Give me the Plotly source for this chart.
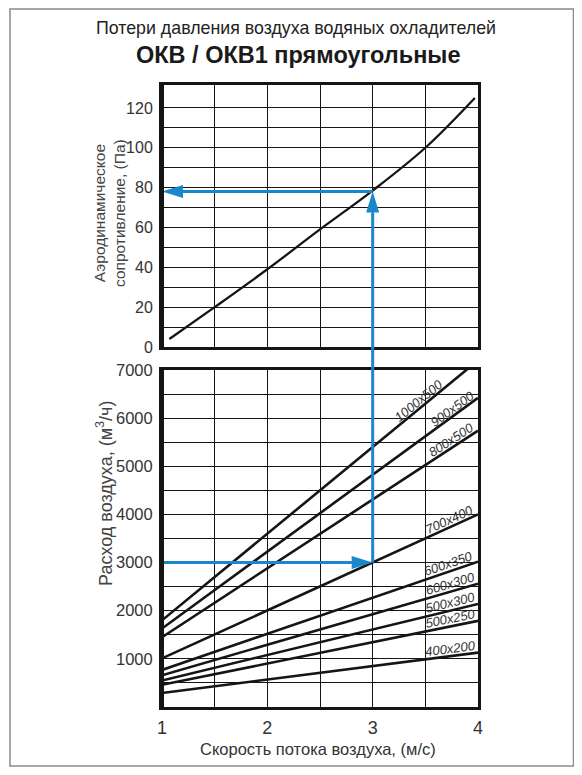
import math
import plotly.graph_objects as go

# верхний график: потери давления
loss_speed = [1.07, 1.5, 2.0, 2.5, 3.0, 3.5, 3.97]
loss_pa = [4, 20, 39, 59, 78.5, 100, 125]

# нижний график: расход воздуха по типоразмерам (значения при 1 и 4 м/с)
sizes = ['1000x500', '900x500', '800x500', '700x400', '600x350',
         '600x300', '500x300', '500x250', '400x200']
speed_ends = [1, 4]
flow_at_1 = [1800, 1630, 1450, 1010, 770, 660, 550, 460, 290]
flow_at_4 = [7200, 6420, 5740, 4000, 3020, 2560, 2140, 1790, 1130]

# пример подбора
sel_speed = 3
sel_flow = 3000
sel_loss = 78

x_ticks = [1, 2, 3, 4]
loss_ticks = [0, 20, 40, 60, 80, 100, 120]
loss_minor = [10, 30, 50, 70, 90, 110]
flow_ticks = [1000, 2000, 3000, 4000, 5000, 6000, 7000]

# оформление (страница имеет отступ body 8px)
PAGE_OFF = 8
W, H = 582 - 2 * PAGE_OFF, 775 - 2 * PAGE_OFF
PLOT_LEFT, PLOT_RIGHT, PLOT_TOP, PLOT_BOTTOM = 162, 478, 85, 707   # в пикселях окна
PLOT_W = PLOT_RIGHT - PLOT_LEFT
PLOT_H = PLOT_BOTTOM - PLOT_TOP
MARGIN = dict(l=PLOT_LEFT - PAGE_OFF, r=W - (PLOT_RIGHT - PAGE_OFF),
              t=PLOT_TOP - PAGE_OFF, b=H - (PLOT_BOTTOM - PAGE_OFF))
TOP_BOTTOM_PX = 347     # низ верхнего графика
LOW_TOP_PX = 370        # верх нижнего графика
X_RANGE = [1, 4]
LOSS_RANGE = [0, 131.5]
FLOW_RANGE = [0, 7000]
BLUE = '#1a87cc'
INK = '#151515'
FONT = 'Liberation Sans, Arial, sans-serif'
LABEL_X = [3.44, 3.76, 3.75, 3.73, 3.72, 3.74, 3.74, 3.74, 3.74]
HEAD_LEN, HEAD_HALF = 21, 6.5


def px_x(px):
    return (px - PLOT_LEFT) / PLOT_W


def px_y(py):
    return (PLOT_BOTTOM - py) / PLOT_H


top_dom = [px_y(TOP_BOTTOM_PX), 1]
low_dom = [0, px_y(LOW_TOP_PX)]
low_h_px = (low_dom[1] - low_dom[0]) * PLOT_H
top_h_px = (top_dom[1] - top_dom[0]) * PLOT_H
px_per_x = PLOT_W / (X_RANGE[1] - X_RANGE[0])
px_per_flow = low_h_px / (FLOW_RANGE[1] - FLOW_RANGE[0])
px_per_loss = top_h_px / (LOSS_RANGE[1] - LOSS_RANGE[0])

fig = go.Figure()

fig.add_trace(go.Scatter(x=loss_speed, y=loss_pa, mode='lines',
                         line=dict(color=INK, width=2.3, shape='spline'),
                         xaxis='x', yaxis='y', hoverinfo='skip'))

for name, q1, q4 in zip(sizes, flow_at_1, flow_at_4):
    fig.add_trace(go.Scatter(x=speed_ends, y=[q1, q4], mode='lines',
                             line=dict(color=INK, width=2.6),
                             xaxis='x2', yaxis='y2', name=name,
                             hoverinfo='skip'))

annotations = []
for name, q1, q4, lx in zip(sizes, flow_at_1, flow_at_4, LABEL_X):
    slope = (q4 - q1) / (speed_ends[1] - speed_ends[0])
    q = q1 + slope * (lx - speed_ends[0])
    ang = math.degrees(math.atan(slope * px_per_flow / px_per_x))
    annotations.append(dict(
        x=lx, y=q, xref='x2', yref='y2', showarrow=False,
        text='<i>' + name + '</i>', textangle=-ang, yshift=8,
        xanchor='center', yanchor='middle',
        font=dict(family=FONT, size=13, color='#333')))


def label(px, py, text, size, color, angle=0):
    return dict(x=px_x(px), y=px_y(py), xref='paper', yref='paper',
                showarrow=False, text=text, textangle=angle,
                xanchor='center', yanchor='middle',
                font=dict(family=FONT, size=size, color=color))


# заголовки
annotations += [
    label(296, 28, 'Потери давления воздуха водяных охладителей', 17.8, '#222'),
    label(298, 55, '<b>ОКВ / ОКВ1 прямоугольные</b>', 23.5, '#1a1a1a'),
    label(109, 213, 'Аэродинамическое<br>сопротивление, (Па)', 15.5, '#444', -90),
    label(104, 494, 'Расход воздуха, (м<sup>3</sup>/ч)', 18, '#444', -90),
    label(318, 749, 'Скорость потока воздуха, (м/с)', 16.5, '#333'),
]

head_loss = HEAD_LEN / px_per_loss
head_x = HEAD_LEN / px_per_x
blue_line = dict(color=BLUE, width=3)
shapes = [
    # горизонталь на нижнем графике
    dict(type='line', xref='x2', yref='y2', x0=X_RANGE[0], x1=sel_speed - head_x,
         y0=sel_flow, y1=sel_flow, line=blue_line),
    dict(type='path', xref='x2', yref='y2', xsizemode='pixel', ysizemode='pixel',
         xanchor=sel_speed, yanchor=sel_flow,
         path=f'M0,0 L{-HEAD_LEN},{HEAD_HALF} L{-HEAD_LEN},{-HEAD_HALF} Z',
         fillcolor=BLUE, line=dict(width=0)),
    # вертикаль
    dict(type='line', xref='x2', yref='y2', x0=sel_speed, x1=sel_speed,
         y0=sel_flow, y1=FLOW_RANGE[1], line=blue_line),
    dict(type='line', xref='x', yref='paper', x0=sel_speed, x1=sel_speed,
         y0=low_dom[1], y1=top_dom[0], line=blue_line),
    dict(type='line', xref='x', yref='y', x0=sel_speed, x1=sel_speed,
         y0=LOSS_RANGE[0], y1=sel_loss - head_loss, line=blue_line),
    dict(type='path', xref='x', yref='y', xsizemode='pixel', ysizemode='pixel',
         xanchor=sel_speed, yanchor=sel_loss,
         path=f'M0,0 L{-HEAD_HALF},{-HEAD_LEN} L{HEAD_HALF},{-HEAD_LEN} Z',
         fillcolor=BLUE, line=dict(width=0)),
    # горизонталь на верхнем графике
    dict(type='line', xref='x', yref='y', x0=sel_speed, x1=X_RANGE[0] + head_x,
         y0=sel_loss, y1=sel_loss, line=blue_line),
    dict(type='path', xref='x', yref='y', xsizemode='pixel', ysizemode='pixel',
         xanchor=X_RANGE[0], yanchor=sel_loss,
         path=f'M0,0 L{HEAD_LEN},{HEAD_HALF} L{HEAD_LEN},{-HEAD_HALF} Z',
         fillcolor=BLUE, line=dict(width=0)),
    # утолщённая левая граница графиков
    dict(type='line', xref='x domain', yref='y domain', x0=0, x1=0, y0=0, y1=1,
         line=dict(color=INK, width=4)),
    dict(type='line', xref='x2 domain', yref='y2 domain', x0=0, x1=0, y0=0, y1=1,
         line=dict(color=INK, width=4)),
    # рамка страницы
    dict(type='rect', xref='paper', yref='paper', x0=px_x(10), x1=px_x(573.5),
         y0=px_y(766), y1=px_y(9), line=dict(color='#8a8a8a', width=1.5),
         layer='below'),
]

grid = dict(showgrid=True, gridcolor=INK, gridwidth=1)
xaxis_common = dict(range=X_RANGE, tickvals=x_ticks, showline=True, mirror=True,
                    linecolor=INK, linewidth=2.5, zeroline=False, ticks='',
                    minor=dict(dtick=0.5, **grid), **grid)

fig.update_layout(
    width=W, height=H,
    margin=MARGIN,
    paper_bgcolor='white', plot_bgcolor='white',
    showlegend=False,
    font=dict(family=FONT, color='#333'),
    xaxis=dict(domain=[0, 1], anchor='y', showticklabels=False, **xaxis_common),
    yaxis=dict(domain=top_dom, anchor='x', range=LOSS_RANGE, tickvals=loss_ticks,
               showline=True, mirror=True, linecolor=INK, linewidth=3,
               zeroline=False, ticks='', ticklabelstandoff=3,
               tickfont=dict(size=16, color='#333'),
               minor=dict(tickvals=loss_minor, **grid), **grid),
    xaxis2=dict(domain=[0, 1], anchor='y2', ticklabelstandoff=3,
                tickfont=dict(size=18, color='#333'), **xaxis_common),
    yaxis2=dict(domain=low_dom, anchor='x2', range=FLOW_RANGE, tickvals=flow_ticks,
                showline=True, mirror=True, linecolor=INK, linewidth=3,
                zeroline=False, ticks='', ticklabelstandoff=3,
                tickfont=dict(size=16.5, color='#333'),
                minor=dict(dtick=500, **grid), **grid),
    annotations=annotations,
    shapes=shapes,
)

fig.write_html("out.html")
